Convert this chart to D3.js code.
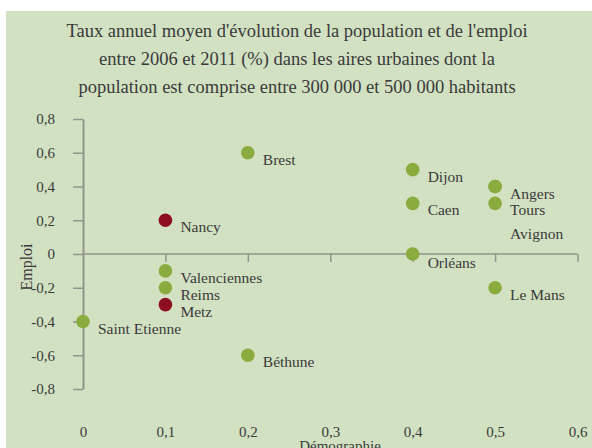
<!DOCTYPE html>
<html>
<head>
<meta charset="utf-8">
<script src="https://cdn.jsdelivr.net/npm/d3@7"></script>
<style>
  body { margin: 0; background: #fff; }
  svg text { font-family: "Liberation Serif", serif; fill: #3a3a3a; }
</style>
</head>
<body>
<div id="chart"></div>
<script>
// data
const cities = ["Saint Etienne", "Nancy", "Valenciennes", "Reims", "Metz", "Brest", "Béthune",
                "Dijon", "Caen", "Orléans", "Angers", "Avignon", "Tours", "Le Mans"];
const demographie = [0, 0.1, 0.1, 0.1, 0.1, 0.2, 0.2, 0.4, 0.4, 0.4, 0.5, 0.5, 0.5, 0.5];
const emploi = [-0.4, 0.2, -0.1, -0.2, -0.3, 0.6, -0.6, 0.5, 0.3, 0, 0.4, 0.4, 0.3, -0.2];
const highlighted = ["Nancy", "Metz"];
const xTicks = [0, 0.1, 0.2, 0.3, 0.4, 0.5, 0.6];
const yTicks = [-0.8, -0.6, -0.4, -0.2, 0, 0.2, 0.4, 0.6, 0.8];
const titleLines = [
  "Taux annuel moyen d'évolution de la population et de l'emploi",
  "entre 2006 et 2011 (%) dans les aires urbaines dont la",
  "population est comprise entre 300 000 et 500 000 habitants"
];

const width = 592;
const height = 448;
const green = "#8aac3f";
const red = "#8c0f20";
const axisColor = "#8f968b";

const points = cities.map((c, i) => ({ name: c, x: demographie[i], y: emploi[i] }));

// label nudges so overlapping points stay readable
const labelShift = { "Avignon": 40, "Orléans": 2 };

const fmt = d => String(d).replace(".", ",");

const xScale = d3.scaleLinear().domain([0, 0.6]).range([83, 577.5]);
const yScale = d3.scaleLinear().domain([-0.8, 0.8]).range([389, 119]);

const svg = d3.select("#chart")
  .append("svg")
  .attr("width", width)
  .attr("height", height);

svg.append("rect")
  .attr("x", 6)
  .attr("y", 11)
  .attr("width", width - 6)
  .attr("height", height - 11)
  .attr("fill", "#d3e1c3");

// title
svg.append("g").selectAll("text")
  .data(titleLines)
  .enter().append("text")
  .attr("x", 297)
  .attr("y", (d, i) => 37 + i * 28)
  .attr("text-anchor", "middle")
  .style("font-size", "18.5px")
  .text(d => d);

// x axis line with ticks on y=0
const xAxis = d3.axisBottom(xScale)
  .tickValues(xTicks.filter(d => d > 0))
  .tickSize(8)
  .tickSizeOuter(0)
  .tickFormat("");

const gx = svg.append("g")
  .attr("transform", "translate(0," + yScale(0) + ")")
  .call(xAxis);
gx.select(".domain").attr("stroke", axisColor).attr("stroke-width", 1.5)
  .attr("d", "M" + xScale(0) + ",0H" + xScale(0.6));
gx.selectAll(".tick line").attr("stroke", axisColor).attr("stroke-width", 1.5);

// x tick labels at bottom
const xLabels = d3.axisBottom(xScale)
  .tickValues(xTicks)
  .tickSize(0)
  .tickPadding(0)
  .tickFormat(fmt);

const gxl = svg.append("g")
  .attr("transform", "translate(0,426)")
  .call(xLabels);
gxl.select(".domain").remove();
gxl.selectAll("text")
  .attr("fill", "#3a3a3a")
  .style("font-family", "Liberation Serif, serif")
  .style("font-size", "15px");

// y axis
const yAxis = d3.axisLeft(yScale)
  .tickValues(yTicks)
  .tickSize(10)
  .tickSizeOuter(0)
  .tickPadding(18)
  .tickFormat(fmt);

const gy = svg.append("g")
  .attr("transform", "translate(" + xScale(0) + ",0)")
  .call(yAxis);
gy.select(".domain").attr("stroke", axisColor).attr("stroke-width", 2);
gy.selectAll(".tick line").attr("stroke", axisColor).attr("stroke-width", 1.5);
gy.selectAll("text")
  .attr("fill", "#3a3a3a")
  .style("font-family", "Liberation Serif, serif")
  .style("font-size", "15px");

// axis titles
svg.append("text")
  .attr("x", 340)
  .attr("y", 451)
  .attr("text-anchor", "middle")
  .style("font-size", "15px")
  .text("Démographie");

svg.append("text")
  .attr("transform", "translate(32,267) rotate(-90)")
  .attr("text-anchor", "middle")
  .style("font-size", "16px")
  .text("Emploi");

// points
svg.append("g").selectAll("circle")
  .data(points)
  .enter().append("circle")
  .attr("cx", d => xScale(d.x))
  .attr("cy", d => yScale(d.y))
  .attr("r", 6.8)
  .attr("fill", d => highlighted.includes(d.name) ? red : green);

svg.append("g").selectAll("text")
  .data(points)
  .enter().append("text")
  .attr("x", d => xScale(d.x) + 15)
  .attr("y", d => yScale(d.y) + 12 + (labelShift[d.name] || 0))
  .style("font-size", "15.5px")
  .text(d => d.name);
</script>
</body>
</html>
